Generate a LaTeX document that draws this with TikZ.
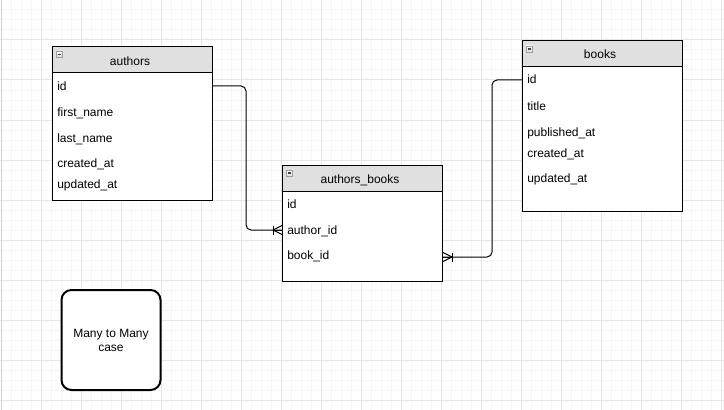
\documentclass[tikz,border=0pt]{standalone}
\usepackage{fontspec}
\setmainfont{Liberation Sans}
\definecolor{finegrid}{HTML}{F6F6F6}
\definecolor{majorgrid}{HTML}{E6E6E6}
\definecolor{edgegrid}{HTML}{D2D2D2}
\definecolor{hdrfill}{HTML}{E0E0E0}
\begin{document}
\begin{tikzpicture}[x=0.75pt,y=-0.75pt,
  every node/.style={font=\fontsize{9}{10.5}\selectfont},
  hdr/.style={draw=black,line width=0.75pt,fill=hdrfill,anchor=north west,minimum width=120pt,minimum height=19.5pt,inner sep=0pt},
  body/.style={draw=black,line width=0.75pt,fill=white,anchor=north west,minimum width=120pt,inner sep=0pt},
  ttl/.style={anchor=base,inner sep=0pt},
  row/.style={anchor=base west,inner sep=0pt},
  conn/.style={draw=black,line width=0.75pt,rounded corners=3.75pt},
  note/.style={draw=black,line width=1.5pt,fill=white,rounded corners=7.5pt,minimum width=74.25pt,minimum height=75pt,align=center,inner sep=0pt},
  crow/.pic={\draw[line width=0.75pt] (0,-4.5)--(0,4.5); \draw[line width=0.75pt] (0,0)--(9,-4.5); \draw[line width=0.75pt] (0,0)--(9,4.5); \draw[line width=0.75pt] (0,0)--(9,0);},
  minus/.pic={\draw[draw=gray!75,top color=white,bottom color=gray!25,line width=0.6pt] (0,0) rectangle (6.5,6); \draw[line width=0.8pt,black!75] (1.5,3)--(5,3);}
]
\useasboundingbox (0,0) rectangle (724,410);
\fill[white] (0,0) rectangle (724,410);
% grid
\foreach \x in {1,11,...,721} \draw[finegrid,line width=0.75pt] (\x,0)--(\x,410);
\foreach \y in {0,10,...,410} \draw[finegrid,line width=0.75pt] (0,\y)--(724,\y);
\foreach \x in {41,81,...,721} \draw[majorgrid,line width=0.75pt] (\x,0)--(\x,410);
\foreach \y in {40,80,...,400} \draw[majorgrid,line width=0.75pt] (0,\y)--(724,\y);
\draw[edgegrid,line width=1pt] (1.5,0)--(1.5,410);

% authors
\node[hdr] (authorsH) at (52,46) {};
\node[body,minimum height=96pt] (authorsB) at (52,72) {};
\pic at (56,51.5) {minus};
\node[ttl] (authorsT) at (130,65) {authors};
\node[row] (a1) at (57,90) {id};
\node[row] (a2) at (57,116) {first\_name};
\node[row] (a3) at (57,142) {last\_name};
\node[row] (a4) at (57,167) {created\_at};
\node[row] (a5) at (57,188) {updated\_at};

% books
\node[hdr] (booksH) at (522,40.5) {};
\node[body,minimum height=108pt] (booksB) at (522,66.5) {};
\pic at (526,46) {minus};
\node[ttl] (booksT) at (600,59) {books};
\node[row] (b1) at (527,84) {id};
\node[row] (b2) at (527,110) {title};
\node[row] (b3) at (527,136) {published\_at};
\node[row] (b4) at (527,157) {created\_at};
\node[row] (b5) at (527,182) {updated\_at};

% authors_books
\node[hdr] (abH) at (282,164.5) {};
\node[body,minimum height=67.5pt] (abB) at (282,190.5) {};
\pic at (286,170) {minus};
\node[ttl] (abT) at (360,183.5) {authors\_books};
\node[row] (ab1) at (287,208) {id};
\node[row] (ab2) at (287,234) {author\_id};
\node[row] (ab3) at (287,259) {book\_id};

% ports
\coordinate (pA) at (authorsB.east |- 0,86);
\coordinate (pAB1) at (abB.west |- 0,230);
\coordinate (pB) at (booksB.west |- 0,80);
\coordinate (pAB2) at (abB.east |- 0,257);

% connectors
\draw[conn] (pA) -- (246,86) -- (246,230) -- (pAB1);
\pic at ([xshift=-6.75pt]pAB1) {crow};
\draw[conn] (pB) -- (492,80) -- (492,257) -- (pAB2);
\pic[xscale=-1] at ([xshift=6.75pt]pAB2) {crow};

% note
\node[note] (note) at (111,340) {Many to Many\\case};
\end{tikzpicture}
\end{document}
